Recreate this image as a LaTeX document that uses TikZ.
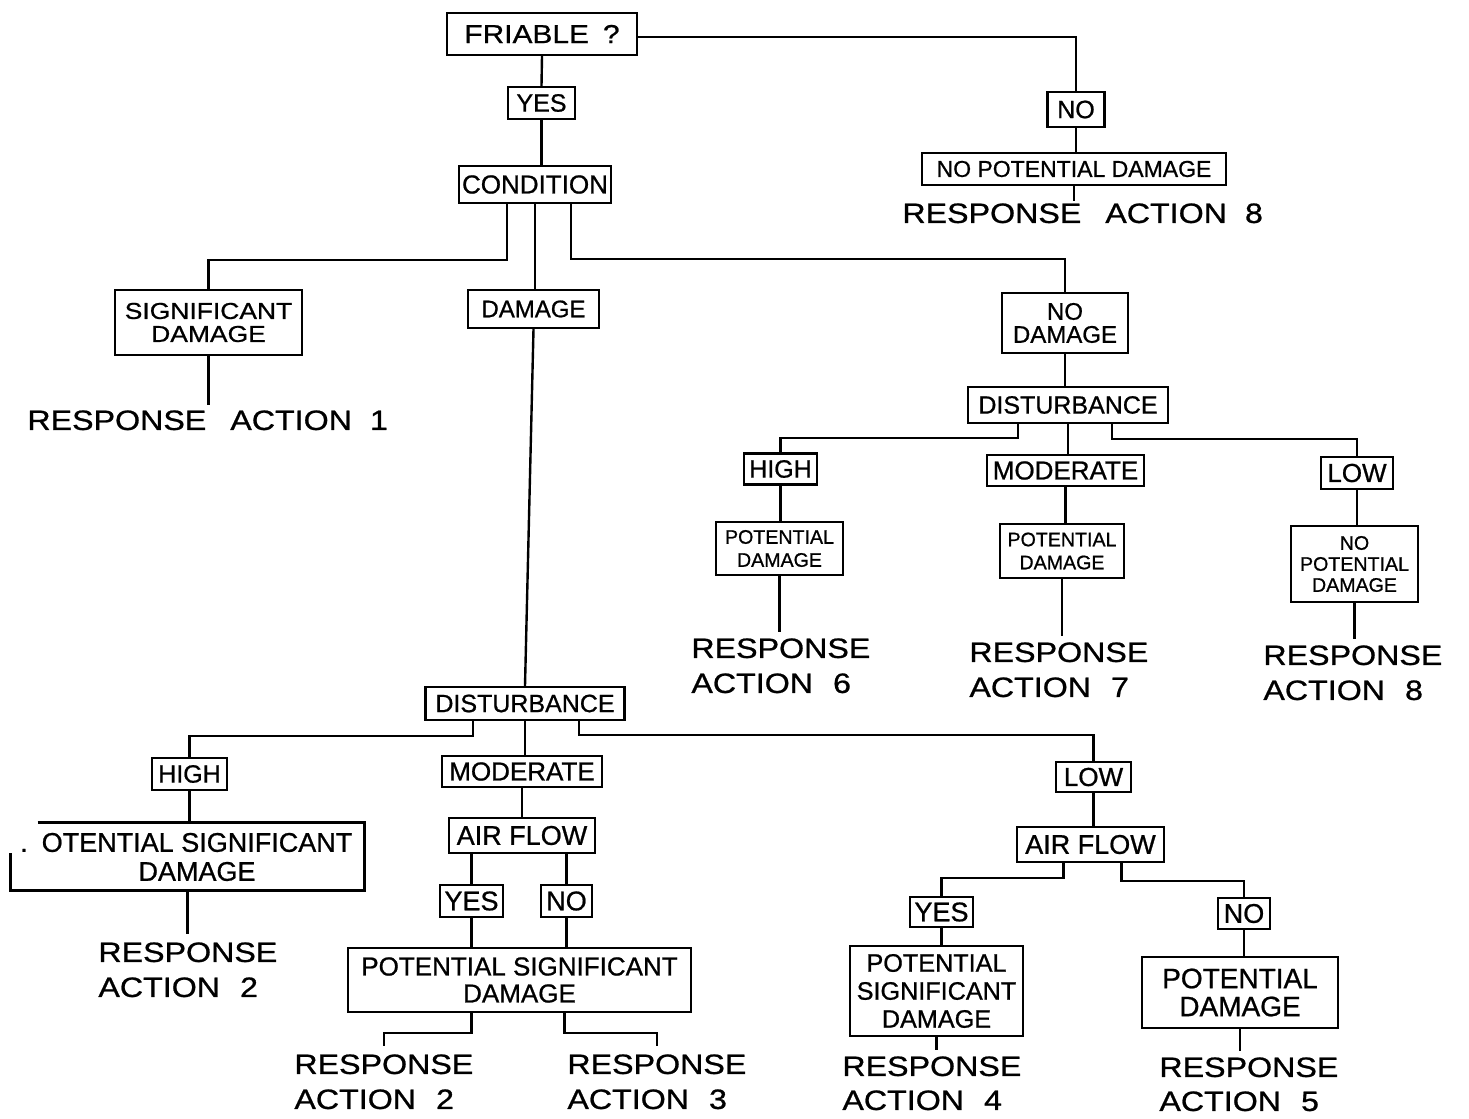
\documentclass[tikz,border=0pt]{standalone}
\usepackage{fontspec}
\setmainfont[FakeBold=0.8]{Liberation Sans}
\newfontfamily\wfont[FakeStretch=1.15,FakeBold=0.8]{Liberation Sans}
\newcommand\myfs[2]{\fontsize{#1}{#2}\selectfont}
\usetikzlibrary{calc}
\tikzset{
  bx/.style={draw, line width=1.2pt, inner sep=0pt, align=center},
  resp/.style={inner sep=0pt, anchor=north west, align=left, font={\wfont\myfs{14}{17.5}}},
  ln/.style={line width=1.2pt}
}
\begin{document}
\begin{tikzpicture}[x=0.5pt,y=-0.5pt]
\fill[white] (0,0) rectangle (1469,1119);
\useasboundingbox (0,0) rectangle (1469,1119);

% ---- top
\node[bx, minimum width=95pt, minimum height=21pt, font={\wfont\myfs{13}{14}}] (fri) at (542,34) {FRIABLE\hspace{7pt}?};
\node[bx, minimum width=33.5pt, minimum height=16pt, font={\myfs{12.5}{14}}] (yes) at (541.5,103) {YES};
\node[bx, minimum width=76pt, minimum height=18.5pt, font={\myfs{13}{14}}] (cond) at (535,184.5) {CONDITION};
\node[bx, minimum width=28.5pt, minimum height=17.5pt, font={\myfs{12.5}{14}}] (no) at (1076,109.5) {NO};
\node[bx, minimum width=152pt, minimum height=16pt, font={\myfs{11.5}{13}}] (npd) at (1074,169) {NO POTENTIAL DAMAGE};
\node[resp] (r8a) at (902,203) {RESPONSE\hspace{12pt}ACTION\hspace{9pt}8};

\node[bx, minimum width=93.5pt, minimum height=32.5pt, font={\wfont\myfs{11.5}{11.5}}] (sigd) at (208.5,322.5) {SIGNIFICANT\\DAMAGE};
\node[bx, minimum width=65.5pt, minimum height=19pt, font={\myfs{12}{13}}] (dam) at (533.5,309) {DAMAGE};
\node[bx, minimum width=63pt, minimum height=30pt, font={\myfs{12}{11.5}}] (nodam) at (1065,323) {NO\\DAMAGE};
\node[resp] (r1) at (27,410) {RESPONSE\hspace{12pt}ACTION\hspace{9pt}1};

% ---- right branch
\node[bx, minimum width=100pt, minimum height=18pt, font={\myfs{12.5}{13}}] (distr) at (1068,405) {DISTURBANCE};
\node[bx, minimum width=36.5pt, minimum height=15.5pt, font={\myfs{12.5}{13}}] (highr) at (780.5,469) {HIGH};
\node[bx, minimum width=78.5pt, minimum height=15.5pt, font={\myfs{13}{13}}] (modr) at (1065.5,470.5) {MODERATE};
\node[bx, minimum width=36pt, minimum height=16pt, font={\myfs{13}{13}}] (lowr) at (1357,473) {LOW};
\node[bx, minimum width=63.5pt, minimum height=26.5pt, font={\myfs{9.8}{11.5}}] (pd1) at (779.5,548.5) {POTENTIAL\\DAMAGE};
\node[bx, minimum width=62pt, minimum height=27pt, font={\myfs{9.8}{11.5}}] (pd2) at (1062,551) {POTENTIAL\\DAMAGE};
\node[bx, minimum width=63.5pt, minimum height=38pt, font={\myfs{9.8}{10.5}}] (npd2) at (1354.5,564) {NO\\POTENTIAL\\DAMAGE};
\node[resp] (r6) at (691,638) {RESPONSE\\ACTION\hspace{10pt}6};
\node[resp] (r7) at (969,642) {RESPONSE\\ACTION\hspace{10pt}7};
\node[resp] (r8) at (1263,645) {RESPONSE\\ACTION\hspace{10pt}8};

% ---- lower branch
\node[bx, minimum width=99.5pt, minimum height=16.5pt, font={\myfs{12.5}{13}}] (dist) at (525,703.5) {DISTURBANCE};
\node[bx, minimum width=37.5pt, minimum height=16pt, font={\myfs{12.5}{13}}] (high) at (189.5,774) {HIGH};
\node[inner sep=0pt, minimum width=176.5pt, minimum height=33.5pt] (psdl) at (187.5,856.5) {};
\node[inner sep=0pt, align=center, font={\myfs{13.5}{14.5}}] (psdlt) at (197,857) {\llap{.\hspace{7pt}}OTENTIAL SIGNIFICANT\\DAMAGE};
\node[bx, minimum width=80pt, minimum height=15.5pt, font={\myfs{13}{13}}] (mod) at (522,771.5) {MODERATE};
\node[bx, minimum width=73pt, minimum height=17.5pt, font={\myfs{13.5}{14}}] (af) at (522,835.5) {AIR FLOW};
\node[bx, minimum width=31.5pt, minimum height=16pt, font={\myfs{13.5}{14}}] (yes2) at (471.5,901) {YES};
\node[bx, minimum width=25.5pt, minimum height=16pt, font={\myfs{13.5}{14}}] (no2) at (566.5,901) {NO};
\node[bx, minimum width=171.5pt, minimum height=32pt, font={\myfs{13}{13.5}}] (psdm) at (519.5,980) {POTENTIAL SIGNIFICANT\\DAMAGE};
\node[resp] (r2l) at (98,942) {RESPONSE\\ACTION\hspace{10pt}2};
\node[resp] (r2m) at (294,1054) {RESPONSE\\ACTION\hspace{10pt}2};
\node[resp] (r3) at (567,1054) {RESPONSE\\ACTION\hspace{10pt}3};

\node[bx, minimum width=37.5pt, minimum height=15pt, font={\myfs{13}{13}}] (low) at (1093.5,777) {LOW};
\node[bx, minimum width=73.5pt, minimum height=17.5pt, font={\myfs{13.5}{14}}] (afr) at (1090.5,844.5) {AIR FLOW};
\node[bx, minimum width=31.5pt, minimum height=15pt, font={\myfs{13.5}{14}}] (yesr) at (941.5,912) {YES};
\node[bx, minimum width=26pt, minimum height=15.5pt, font={\myfs{13.5}{14}}] (nor) at (1244,913.5) {NO};
\node[bx, minimum width=86.5pt, minimum height=45pt, font={\myfs{12.6}{14}}] (psdr) at (936.5,991) {POTENTIAL\\SIGNIFICANT\\DAMAGE};
\node[bx, minimum width=98pt, minimum height=35.5pt, font={\myfs{14}{14}}] (pdr) at (1240,992.5) {POTENTIAL\\DAMAGE};
\node[resp, font={\wfont\myfs{14}{17}}] (r4) at (842,1056) {RESPONSE\\ACTION\hspace{10pt}4};
\node[resp, font={\wfont\myfs{14}{17}}] (r5) at (1159,1057) {RESPONSE\\ACTION\hspace{10pt}5};

% ---- open box (scan-cropped corner)
\draw[ln] ([xshift=13.5pt]psdl.north west) -- (psdl.north east) -- (psdl.south east) -- (psdl.south west) -- ([yshift=-15pt]psdl.north west);

% ---- connectors
\draw[ln] (fri.south) -- (yes.north);
\draw[ln] (yes.south) -- (yes.south |- cond.north);
\draw[ln] ([yshift=-1.5pt]fri.east) -| (no.north);
\draw[ln] (no.south) -- (no.south |- npd.north);
\draw[ln] (npd.south) -- ([yshift=1pt]npd.south |- r8a.north);

\draw[ln] ([xshift=-14pt]cond.south) -- ++(0,56) -| (sigd.north);
\draw[ln] (cond.south) -- (cond.south |- dam.north);
\draw[ln] ([xshift=18pt]cond.south) -- ++(0,55) -| (nodam.north);
\draw[ln] (sigd.south) -- ([yshift=2.5pt]sigd.south |- r1.north);
\draw[ln] (dam.south) -- (dist.north);

\draw[ln] (nodam.south) -- (nodam.south |- distr.north);
\draw[ln] ([xshift=-25pt]distr.south) -- ++(0,14) -| (highr.north);
\draw[ln] (distr.south) -- (distr.south |- modr.north);
\draw[ln] ([xshift=22pt]distr.south) -- ++(0,15) -| (lowr.north);
\draw[ln] (highr.south) -- (highr.south |- pd1.north);
\draw[ln] (pd1.south) -- ([yshift=3pt]pd1.south |- r6.north);
\draw[ln] (modr.south) -- (modr.south |- pd2.north);
\draw[ln] (pd2.south) -- ([yshift=3pt]pd2.south |- r7.north);
\draw[ln] (lowr.south) -- (lowr.south |- npd2.north);
\draw[ln] (npd2.south) -- ([yshift=3pt]npd2.south |- r8.north);

\draw[ln] ([xshift=-26pt]dist.south) -- ++(0,15) -| (high.north);
\draw[ln] (dist.south) -- (dist.south |- mod.north);
\draw[ln] ([xshift=27pt]dist.south) -- ++(0,14) -| (low.north);
\draw[ln] (high.south) -- (high.south |- psdl.north);
\draw[ln] (psdl.south) -- ([yshift=4pt]psdl.south |- r2l.north);
\draw[ln] (mod.south) -- (mod.south |- af.north);
\draw[ln] (af.south -| yes2.north) -- (yes2.north);
\draw[ln] (af.south -| no2.north) -- (no2.north);
\draw[ln] (yes2.south) -- (yes2.south |- psdm.north);
\draw[ln] (no2.south) -- (no2.south |- psdm.north);
\draw[ln] (psdm.south -| yes2.south) -- ++(0,20) -| ([yshift=4pt]r2m.north);
\draw[ln] ([xshift=22.5pt]psdm.south) -- ++(0,20) -| ([yshift=4pt]r3.north);

\draw[ln] (low.south) -- (low.south |- afr.north);
\draw[ln] ([xshift=-13.5pt]afr.south) -- ++(0,15) -| (yesr.north);
\draw[ln] ([xshift=15.5pt]afr.south) -- ++(0,18) -| (nor.north);
\draw[ln] (yesr.south) -- (yesr.south |- psdr.north);
\draw[ln] (psdr.south) -- ([yshift=3pt]psdr.south |- r4.north);
\draw[ln] (nor.south) -- (nor.south |- pdr.north);
\draw[ln] (pdr.south) -- ([yshift=3pt]pdr.south |- r5.north);
\end{tikzpicture}
\end{document}
